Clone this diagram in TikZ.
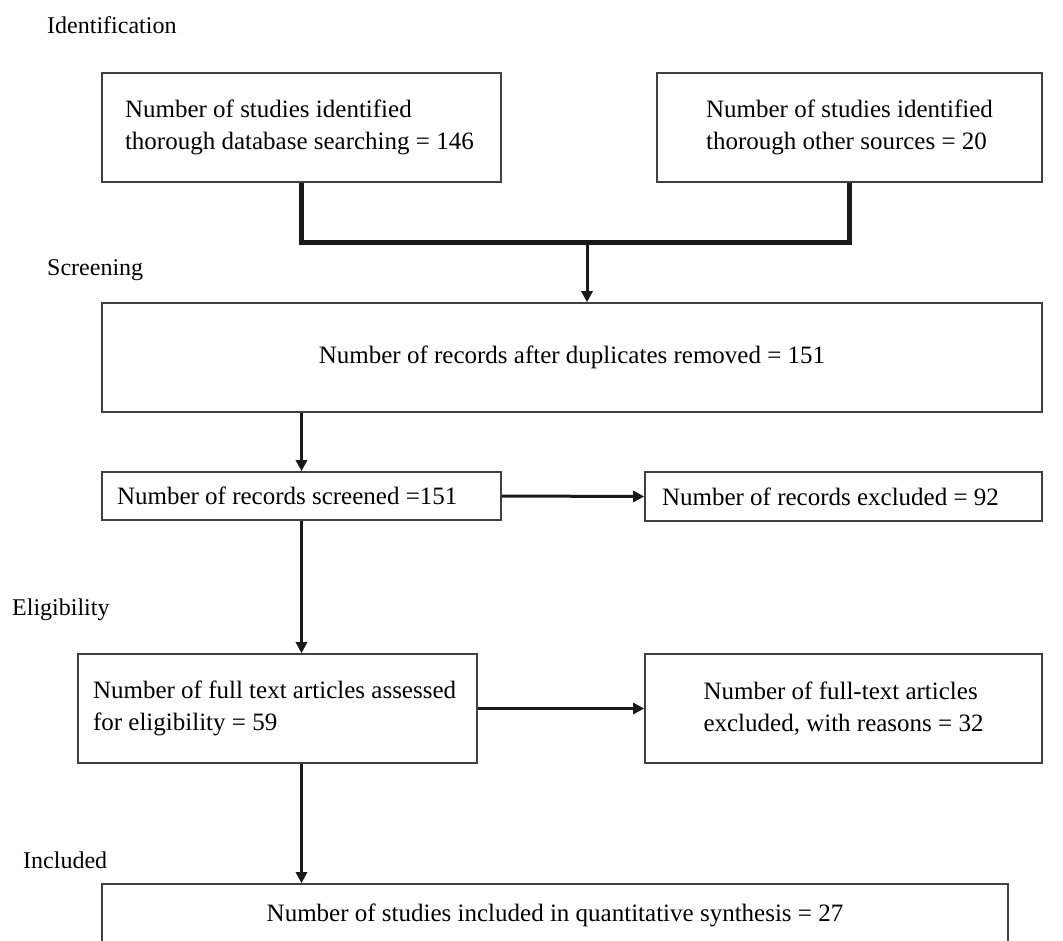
\documentclass[tikz,border=0pt]{standalone}
\usepackage{fontspec}
\setmainfont{Liberation Serif}
\usetikzlibrary{arrows.meta}
\begin{document}
\begin{tikzpicture}[x=1pt,y=-1pt,
  box/.style={draw=black!75, line width=1.6pt, rectangle, inner ysep=0pt, font=\fontsize{25}{32}\selectfont},
  lbox/.style={box, align=left, execute at begin node={\spaceskip=0pt\xspaceskip=0pt\relax}},
  arr/.style={line width=3pt, draw=black!90, -{Triangle[length=11pt,width=11pt]}},
  joinline/.style={line width=5pt, draw=black!90, line join=miter},
  stage/.style={anchor=base west, font=\fontsize{24}{30}\selectfont, inner sep=0pt}
]
\useasboundingbox (0,0) rectangle (1063,940);
\clip (0,0) rectangle (1063,940);

% stage labels
\node[stage] (s1) at (47,33) {Identification};
\node[stage] (s2) at (47,275) {Screening};
\node[stage] (s3) at (12,615) {Eligibility};
\node[stage] (s4) at (23,868) {Included};

% boxes
\node[lbox, minimum width=399pt, minimum height=109pt, text width=353pt, inner xsep=23pt] (b1) at (301.5,127.5)
  {\mbox{Number of studies identified}\\\mbox{thorough database searching = 146}};
\node[lbox, minimum width=385pt, minimum height=109pt] (b2) at (849.5,127.5)
  {Number of studies identified\\thorough other sources = 20};
\node[box, minimum width=940pt, minimum height=109pt] (b3) at (572,357.5)
  {Number of records after duplicates removed = 151};
\node[lbox, minimum width=399pt, minimum height=48pt, text width=369pt, inner xsep=15pt] (b4) at (301.5,496)
  {\mbox{Number of records screened =151}};
\node[lbox, minimum width=397pt, minimum height=49pt, text width=363pt, inner xsep=17pt] (b5) at (843.5,496.5)
  {\mbox{Number of records excluded = 92}};
\node[lbox, minimum width=399pt, minimum height=109pt, text width=369pt, inner xsep=15pt] (b6) at (277.5,708.5)
  {\mbox{Number of full text articles assessed}\\\mbox{for eligibility = 59}};
\node[lbox, minimum width=397pt, minimum height=109pt] (b7) at (843.5,708.5)
  {Number of full-text articles\\excluded, with reasons = 32};
\node[box, minimum width=906pt, minimum height=62pt] (b8) at (555,915)
  {Number of studies included in quantitative synthesis = 27};

% connectors
\coordinate (j) at (587,242);
\draw[joinline] (b1.south) |- (j) -| (b2.south);
\draw[arr] (j) -- (j |- b3.north);
\draw[arr] (b4.north |- b3.south) -- (b4.north);
\draw[arr] (b4.east) -- (b5.west);
\draw[arr] (b4.south) -- (b4.south |- b6.north);
\draw[arr] (b6.east) -- (b7.west);
\draw[arr] (b4.south |- b6.south) -- (b4.south |- b8.north);
\end{tikzpicture}
\end{document}
